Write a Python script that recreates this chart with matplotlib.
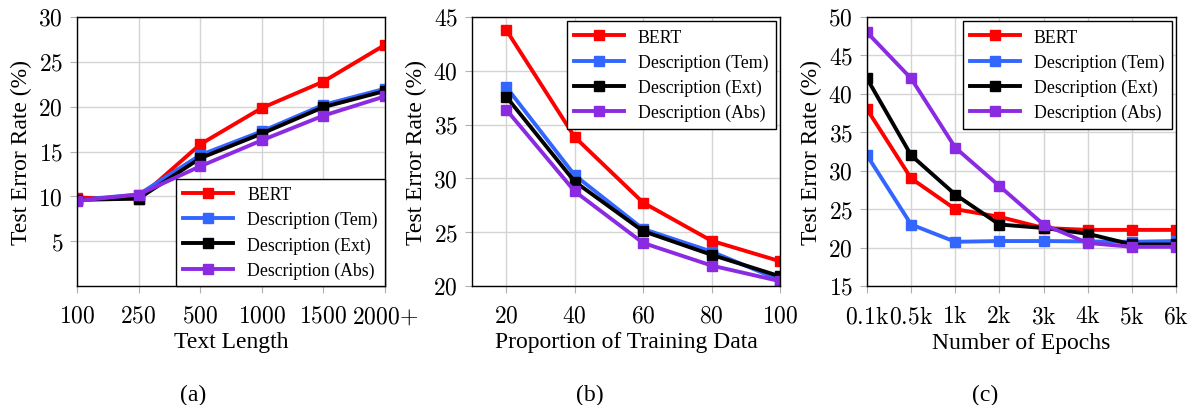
import numpy as np
import matplotlib
matplotlib.use('Agg')
import matplotlib.pyplot as plt

plt.rcParams['font.family'] = ['Liberation Serif', 'DejaVu Serif']
plt.rcParams['mathtext.fontset'] = 'cm'

series_names = ['BERT', 'Description (Tem)', 'Description (Ext)', 'Description (Abs)']
series_colors = ['#ff0000', '#3366ff', '#000000', '#8a2be2']

# (a) text length
length_labels = ['100', '250', '500', '1000', '1500', '2000{+}']
length_bert = [9.85, 9.75, 15.8, 19.85, 22.8, 26.9]
length_tem = [9.6, 10.2, 14.6, 17.25, 20.2, 22.0]
length_ext = [9.6, 9.75, 14.25, 17.0, 19.95, 21.75]
length_abs = [9.5, 10.2, 13.35, 16.25, 19.0, 21.15]

# (b) proportion of training data
prop_x = [20, 40, 60, 80, 100]
prop_bert = [43.8, 33.85, 27.75, 24.2, 22.3]
prop_tem = [38.5, 30.3, 25.3, 23.2, 20.55]
prop_ext = [37.6, 29.7, 25.1, 22.9, 20.9]
prop_abs = [36.4, 28.8, 24.0, 21.9, 20.45]

# (c) number of epochs
epoch_labels = ['0.1k', '0.5k', '1k', '2k', '3k', '4k', '5k', '6k']
epoch_bert = [38.0, 29.0, 25.0, 24.0, 22.55, 22.3, 22.3, 22.3]
epoch_tem = [32.0, 23.0, 20.75, 20.85, 20.85, 20.8, 20.75, 20.85]
epoch_ext = [42.0, 32.0, 26.9, 23.0, 22.55, 21.8, 20.4, 20.4]
epoch_abs = [48.0, 42.0, 33.0, 28.0, 23.0, 20.6, 20.1, 20.1]

fig = plt.figure(figsize=(11.89, 4.06), dpi=100)
W, H = 1189, 406


def make_ax(left, right, top, bottom):
    return fig.add_axes([left / W, 1 - bottom / H, (right - left) / W, (bottom - top) / H])


def mt(s):
    return r'$\mathrm{' + s + '}$'


def style(ax, yticks):
    ax.grid(True, color='#d4d4d4', linewidth=1.0)
    ax.set_axisbelow(True)
    ax.tick_params(direction='out', length=5, color='#b0b0b0', labelsize=17)
    ax.tick_params(axis='x', pad=9)
    ax.tick_params(axis='y', pad=5)
    ax.set_yticks(yticks)
    ax.set_yticklabels([mt(str(v)) for v in yticks])
    for s in ax.spines.values():
        s.set_linewidth(1.0)
    ax.set_ylabel('Test Error Rate (%)', fontsize=17, labelpad=5)


def draw(ax, x, ys):
    for name, c, y in zip(series_names, series_colors, ys):
        ax.plot(x, y, color=c, marker='s', markersize=7, linewidth=2.8, label=name)


def legend(ax, loc, pad):
    ax.legend(loc=loc, fontsize=12.8, frameon=True, fancybox=False, edgecolor='black',
              framealpha=1, borderaxespad=pad, handlelength=2.8, labelspacing=0.45)


# panel a
ax1 = make_ax(77, 385, 18, 287)
draw(ax1, np.arange(len(length_labels)), [length_bert, length_tem, length_ext, length_abs])
ax1.set_xlim(0, 5)
ax1.set_ylim(0, 30)
ax1.set_xticks(np.arange(len(length_labels)))
ax1.set_xticklabels([mt(s) for s in length_labels])
ax1.set_xlabel('Text Length', fontsize=17, labelpad=3)
style(ax1, [5, 10, 15, 20, 25, 30])
legend(ax1, 'lower right', 0)

# panel b
ax2 = make_ax(472, 780, 18, 287)
draw(ax2, prop_x, [prop_bert, prop_tem, prop_ext, prop_abs])
ax2.set_xlim(10, 100)
ax2.set_ylim(20, 45)
ax2.set_xticks(prop_x)
ax2.set_xticklabels([mt(str(v)) for v in prop_x])
ax2.set_xlabel('Proportion of Training Data', fontsize=17, labelpad=3)
style(ax2, [20, 25, 30, 35, 40, 45])
legend(ax2, 'upper right', 0.25)

# panel c
ax3 = make_ax(867, 1176, 18, 287)
draw(ax3, np.arange(len(epoch_labels)), [epoch_bert, epoch_tem, epoch_ext, epoch_abs])
ax3.set_xlim(0, 7)
ax3.set_ylim(15, 50)
ax3.set_xticks(np.arange(len(epoch_labels)))
ax3.set_xticklabels([mt(s) for s in epoch_labels])
ax3.set_xlabel('Number of Epochs', fontsize=17, labelpad=3)
style(ax3, [15, 20, 25, 30, 35, 40, 45, 50])
legend(ax3, 'upper right', 0.25)

for lab, xc in zip(['(a)', '(b)', '(c)'], [193, 590, 985]):
    fig.text(xc / W, 1 - 395 / H, lab, ha='center', va='center', fontsize=17)

fig.savefig('out.png', dpi=100)
